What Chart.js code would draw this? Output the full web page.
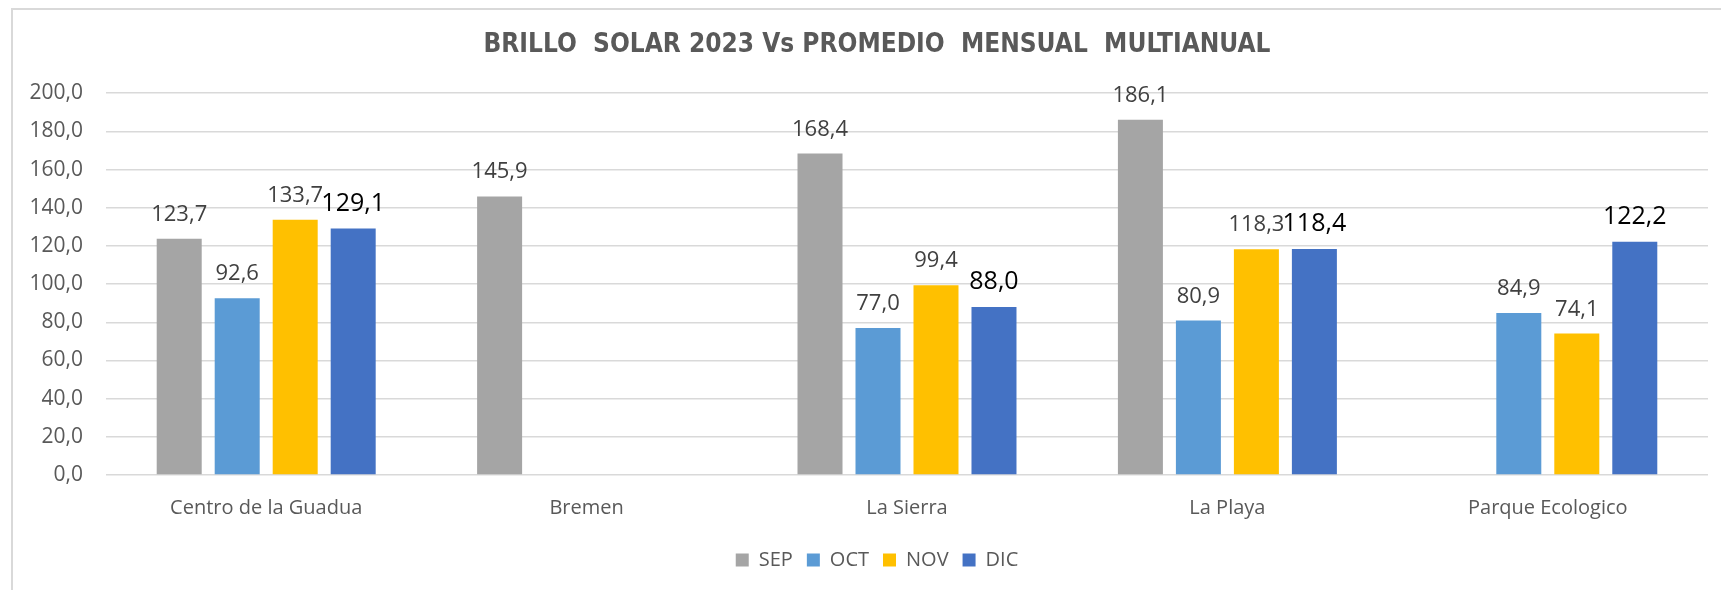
<!DOCTYPE html>
<html>
<head>
<meta charset="utf-8">
<script src="https://cdn.jsdelivr.net/npm/chart.js@4.4.0/dist/chart.umd.min.js"></script>
<style>
    body { margin: 0; background: #ffffff; }
    #contenedor { width: 1721px; height: 590px; position: relative; }
</style>
</head>
<body>
<div id="contenedor">
    <canvas id="myChart"></canvas>
</div>
<script>
// Estaciones y meses
var estaciones = ['Centro de la Guadua', 'Bremen', 'La Sierra', 'La Playa', 'Parque Ecologico'];
var meses = ['SEP', 'OCT', 'NOV', 'DIC'];

// Brillo solar por mes (horas)
var sep = [123.7, 145.9, 168.4, 186.1, null];
var oct = [92.6, null, 77.0, 80.9, 84.9];
var nov = [133.7, null, 99.4, 118.3, 74.1];
var dic = [129.1, null, 88.0, 118.4, 122.2];

var colores = ['#A5A5A5', '#5B9BD5', '#FFC000', '#4472C4'];

// formato con coma decimal
function coma(v) {
    return v.toFixed(1).replace('.', ',');
}

// Marco del grafico (solo borde superior e izquierdo visibles)
var marco = {
    id: 'marco',
    beforeDraw: function (chart) {
        var ctx = chart.ctx;
        ctx.save();
        ctx.fillStyle = '#ffffff';
        ctx.fillRect(0, 0, chart.width, chart.height);
        ctx.strokeStyle = '#D9D9D9';
        ctx.lineWidth = 2;
        ctx.beginPath();
        ctx.moveTo(12, chart.height);
        ctx.lineTo(12, 9);
        ctx.lineTo(chart.width, 9);
        ctx.stroke();
        ctx.restore();
    }
};

// Etiquetas de valor encima de cada barra
var etiquetas = {
    id: 'etiquetas',
    afterDatasetsDraw: function (chart) {
        var ctx = chart.ctx;
        ctx.save();
        ctx.textAlign = 'center';
        ctx.textBaseline = 'alphabetic';
        chart.data.datasets.forEach(function (ds, i) {
            var meta = chart.getDatasetMeta(i);
            meta.data.forEach(function (bar, j) {
                var v = ds.data[j];
                if (v === null) return;
                if (i === 3) {
                    ctx.fillStyle = '#000000';
                    ctx.font = '25px "Open Sans"';
                } else {
                    ctx.fillStyle = '#404040';
                    ctx.font = '22px "Open Sans"';
                }
                ctx.fillText(coma(v), bar.x, bar.y - 18);
            });
        });
        ctx.restore();
    }
};

var series = [sep, oct, nov, dic];

var ctx = document.getElementById('myChart').getContext('2d');

var myChart = new Chart(ctx, {
    type: 'bar',
    data: {
        labels: estaciones,
        datasets: meses.map(function (m, i) {
            return {
                label: m,
                data: series[i],
                backgroundColor: colores[i],
                categoryPercentage: 0.724,
                barPercentage: 0.776
            };
        })
    },
    plugins: [marco, etiquetas],
    options: {
        responsive: true,
        maintainAspectRatio: false,
        animation: false,
        layout: {
            padding: { left: 46, right: 13, top: 0, bottom: 10 }
        },
        plugins: {
            title: {
                display: true,
                text: 'BRILLO  SOLAR 2023 Vs PROMEDIO  MENSUAL  MULTIANUAL',
                color: '#595959',
                font: { family: '"DejaVu Sans Condensed", "DejaVu Sans"', size: 26, weight: 'bold' },
                padding: { top: 30, bottom: 32 }
            },
            legend: {
                position: 'bottom',
                labels: {
                    color: '#595959',
                    font: { family: '"Open Sans"', size: 20 },
                    boxWidth: 13,
                    boxHeight: 13,
                    padding: 14
                }
            },
            tooltip: { enabled: false }
        },
        scales: {
            x: {
                grid: { display: false },
                border: { display: false },
                ticks: {
                    color: '#595959',
                    font: { family: '"Open Sans"', size: 20 },
                    padding: 13,
                    maxRotation: 0
                },
                afterFit: function (scale) { scale.height = 61; }
            },
            y: {
                min: 0,
                max: 200,
                border: { display: false },
                grid: { color: '#D9D9D9', lineWidth: 1.5, drawTicks: false },
                ticks: {
                    stepSize: 20,
                    color: '#595959',
                    font: { family: '"Open Sans"', size: 21 },
                    padding: 23,
                    callback: function (v) { return coma(v); }
                },
                afterFit: function (scale) {
                    scale.width = 60;
                    // que las etiquetas no se recorten en el borde izquierdo del eje
                    scale._computeLabelArea = function () { return undefined; };
                }
            }
        }
    }
});
</script>
</body>
</html>
